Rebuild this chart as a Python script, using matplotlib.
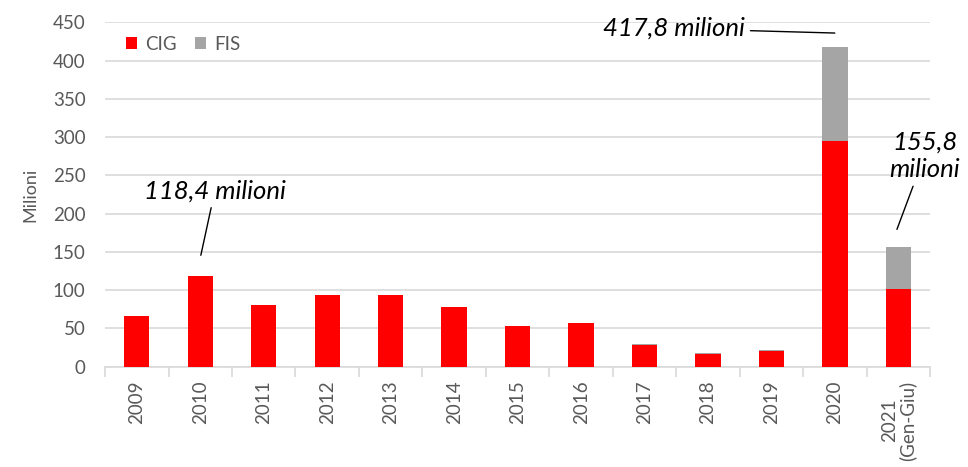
import numpy as np
import matplotlib.pyplot as plt

years = ["2009", "2010", "2011", "2012", "2013", "2014", "2015", "2016",
         "2017", "2018", "2019", "2020", "2021\n(Gen-Giu)"]
cig = [66, 118.4, 81, 94, 94, 78, 53, 57, 28.2, 16, 19.8, 295, 101]
fis = [0, 0, 0, 0, 0, 0, 0, 0, 1.5, 1.5, 2, 122.8, 54.8]

plt.rcParams["font.family"] = ["Lato", "DejaVu Sans"]
txt = "#595959"
grid = "#d9d9d9"

fig = plt.figure(figsize=(9.68, 4.67), dpi=100)
ax = fig.add_axes([0.1085, 0.215, 0.8525, 0.737])

x = np.arange(len(years))
ax.bar(x, cig, width=0.4, color="#ff0000", label="CIG", zorder=3)
ax.bar(x, fis, width=0.4, bottom=cig, color="#a5a5a5", label="FIS", zorder=3)

ax.set_ylim(0, 450)
ax.set_yticks(range(0, 451, 50))
ax.set_xlim(-0.5, len(years) - 0.5)
ax.set_xticks(x)
ax.set_xticklabels(years, rotation=90, fontsize=13.5, color=txt, linespacing=1.0)
ax.set_xticks(np.arange(-0.5, len(years)), minor=True)
ax.tick_params(axis="x", which="major", length=0, pad=10)
ax.tick_params(axis="x", which="minor", length=7, color=grid, width=1.2)
ax.tick_params(axis="y", length=0, labelsize=13.5, labelcolor=txt, pad=14)
ax.grid(axis="y", color=grid, linewidth=1.2, zorder=0)
for s in ["top", "right", "left"]:
    ax.spines[s].set_visible(False)
ax.spines["bottom"].set_color(grid)
ax.spines["bottom"].set_linewidth(1.2)
ax.set_ylabel("Milioni", fontsize=13, color=txt, labelpad=10)

ax.legend(loc="upper left", bbox_to_anchor=(0.005, 1.01), ncol=2, frameon=False,
          fontsize=13.5, labelcolor=txt, handlelength=0.6, handleheight=0.6,
          handletextpad=0.4, columnspacing=1.0)

ann = dict(fontsize=18.5, style="italic", color="black")
lp = dict(arrowstyle="-", color="black", lw=1)
ax.annotate("417,8 milioni", xy=(11.04, 436), xytext=(9.58, 442),
            ha="right", va="center", arrowprops=lp, **ann)
ax.annotate("118,4 milioni", xy=(1.0, 142), xytext=(1.23, 230),
            ha="center", va="center", arrowprops=lp, **ann)
ax.annotate("155,8\nmilioni", xy=(11.96, 176), xytext=(12.41, 276),
            ha="center", va="center", linespacing=1.25, arrowprops=lp, **ann)

fig.savefig("out.png", dpi=100)
